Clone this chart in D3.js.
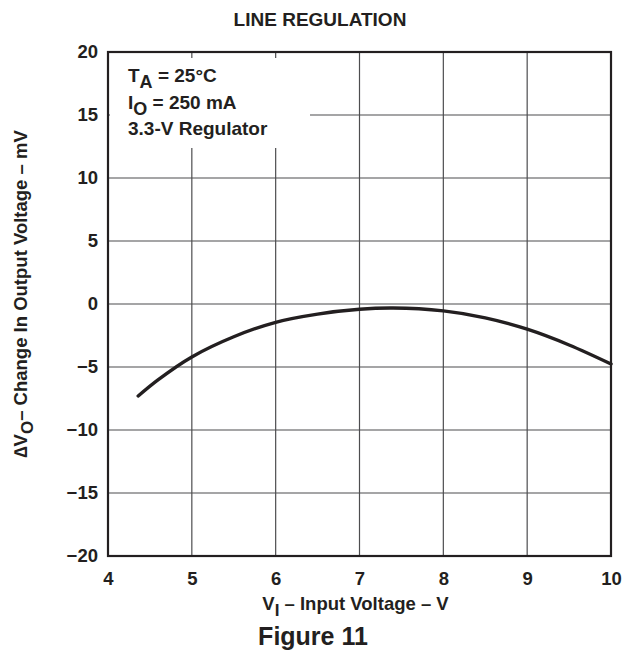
<!DOCTYPE html>
<html>
<head>
<meta charset="utf-8">
<script src="https://cdn.jsdelivr.net/npm/d3@7"></script>
<style>
  body { margin: 0; background: #fff; }
  text { font-family: "Liberation Sans", Arial, Helvetica, sans-serif; font-weight: bold; fill: #231f20; }
</style>
</head>
<body>
<svg id="chart" width="624" height="660"></svg>
<script>
// values
var inputVoltage = [4.36, 4.6, 5.0, 5.5, 6.0, 6.5, 7.0, 7.4, 8.0, 8.5, 9.0, 9.5, 10.0];
var deltaVo = [-7.3, -6.0, -4.2, -2.6, -1.45, -0.8, -0.42, -0.32, -0.55, -1.1, -2.0, -3.25, -4.76];
var xTicks = [4, 5, 6, 7, 8, 9, 10];
var yTicks = [-20, -15, -10, -5, 0, 5, 10, 15, 20];

var margin = { top: 52, left: 108, right: 13, bottom: 104 };
var width = 624 - margin.left - margin.right;
var height = 660 - margin.top - margin.bottom;

var svg = d3.select('#chart');
var g = svg.append('g')
    .attr('transform', 'translate(' + margin.left + ',' + margin.top + ')');

var x = d3.scaleLinear().domain([4, 10]).range([0, width]);
var y = d3.scaleLinear().domain([-20, 20]).range([height, 0]);

// grid
g.append('g').selectAll('line')
    .data(xTicks.slice(1, -1)).enter().append('line')
    .attr('x1', function(d) { return x(d); }).attr('x2', function(d) { return x(d); })
    .attr('y1', 0).attr('y2', height)
    .style('stroke', '#4d4d4f').style('stroke-width', 1.2);
g.append('g').selectAll('line')
    .data(yTicks.slice(1, -1)).enter().append('line')
    .attr('y1', function(d) { return y(d); }).attr('y2', function(d) { return y(d); })
    .attr('x1', 0).attr('x2', width)
    .style('stroke', '#4d4d4f').style('stroke-width', 1.2);

// white box behind the conditions text
g.append('rect')
    .attr('x', 2).attr('y', 6).attr('width', 200).attr('height', 90)
    .style('fill', '#fff');

// curve
var line = d3.line()
    .x(function(d, i) { return x(inputVoltage[i]); })
    .y(function(d) { return y(d); })
    .curve(d3.curveCatmullRom.alpha(0.5));
g.append('path')
    .datum(deltaVo)
    .attr('d', line)
    .style('fill', 'none')
    .style('stroke', '#231f20')
    .style('stroke-width', 3.4)
    .style('stroke-linecap', 'round');

// frame
g.append('rect')
    .attr('width', width).attr('height', height)
    .style('fill', 'none').style('stroke', '#231f20').style('stroke-width', 2.2);

// axes (labels only)
var xAxis = d3.axisBottom(x).tickValues(xTicks).tickSize(0).tickPadding(16)
    .tickFormat(d3.format('d'));
var yAxis = d3.axisLeft(y).tickValues(yTicks).tickSize(0).tickPadding(10)
    .tickFormat(function(d) { return d < 0 ? '\u2212' + (-d) : d; });
var ax = g.append('g').attr('transform', 'translate(0,' + height + ')').call(xAxis);
var ay = g.append('g').call(yAxis);
[ax, ay].forEach(function(a) {
    a.select('.domain').remove();
    a.selectAll('text').style('font-size', '18.5px').style('font-family', '"Liberation Sans", Arial, sans-serif')
        .style('font-weight', 'bold').style('fill', '#231f20');
});

// conditions
var notes = g.append('g').attr('transform', 'translate(20,0)').style('font-size', '19px');
var t1 = notes.append('text').attr('y', 30);
t1.append('tspan').text('T');
t1.append('tspan').attr('dy', 6).style('font-size', '18px').text('A');
t1.append('tspan').attr('dy', -6).text(' = 25\u00b0C');
var t2 = notes.append('text').attr('y', 57);
t2.append('tspan').text('I');
t2.append('tspan').attr('dy', 6).style('font-size', '18px').text('O');
t2.append('tspan').attr('dy', -6).text(' = 250 mA');
notes.append('text').attr('y', 83).text('3.3-V Regulator');

// titles
svg.append('text').attr('x', 320).attr('y', 26).attr('text-anchor', 'middle')
    .style('font-size', '19px').text('LINE REGULATION');

var xt = svg.append('text').attr('x', margin.left + width / 2 - 4).attr('y', 610)
    .attr('text-anchor', 'middle').style('font-size', '18.5px');
xt.append('tspan').text('V');
xt.append('tspan').attr('dy', 6).style('font-size', '17px').text('I');
xt.append('tspan').attr('dy', -6).text(' \u2013 Input Voltage \u2013 V');

var yt = svg.append('text')
    .attr('transform', 'translate(27,' + (margin.top + height / 2 - 10) + ') rotate(-90)')
    .attr('text-anchor', 'middle').style('font-size', '18.5px');
yt.append('tspan').text('\u2206V');
yt.append('tspan').attr('dy', 6).style('font-size', '17px').text('O');
yt.append('tspan').attr('dy', -6).text('\u2013 Change In Output Voltage \u2013 mV');

svg.append('text').attr('x', 313).attr('y', 645).attr('text-anchor', 'middle')
    .style('font-size', '25px').text('Figure 11');
</script>
</body>
</html>
